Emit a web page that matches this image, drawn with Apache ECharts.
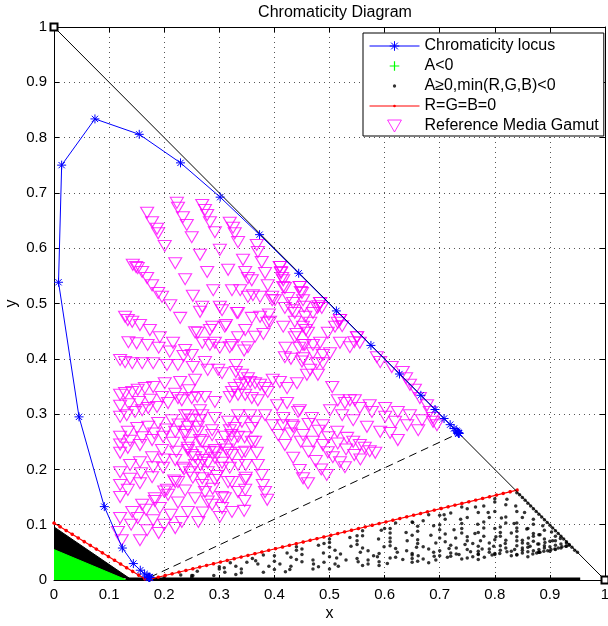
<!DOCTYPE html>
<html><head><meta charset="utf-8">
<script src="https://cdn.jsdelivr.net/npm/echarts@6/dist/echarts.min.js"></script>
<style>html,body{margin:0;padding:0;background:#fff}#c{width:608px;height:626px}</style>
</head><body><div id="c"></div>
<script>
// ---------------- data ----------------
const locus = [[0.1741,0.0050],[0.1738,0.0049],[0.1733,0.0048],[0.1726,0.0048],[0.1714,0.0051],[0.1689,0.0069],[0.1644,0.0109],[0.1566,0.0177],[0.1440,0.0297],[0.1241,0.0578],[0.0913,0.1327],[0.0454,0.2950],[0.0082,0.5384],[0.0139,0.7502],[0.0743,0.8338],[0.1547,0.8059],[0.2296,0.7543],[0.3016,0.6923],[0.3731,0.6245],[0.4441,0.5547],[0.5125,0.4866],[0.5752,0.4242],[0.6270,0.3725],[0.6658,0.3340],[0.6915,0.3083],[0.7079,0.2920],[0.7190,0.2809],[0.7260,0.2740],[0.7300,0.2700],[0.7320,0.2680],[0.7334,0.2666],[0.7344,0.2656],[0.7347,0.2653],[0.7347,0.2653],[0.7347,0.2653],[0.7347,0.2653]];
const purpleLine = [[0.1741,0.0050],[0.7347,0.2653]];
const unitLine = [[0,1],[1,0]];
const zeroRGB = [[0,0.103],[0.168,0],[0.842,0.163]];
const greenEdge = [[0,0.055],[0.132,0.0]];
const blackEdge = [[0,0.096],[0.137,0.003]];
const blackBase = [[0.13,0.002],[0.955,0.002]];
const blackDots = [
 [0.18,0.002],[0.25,0.005],[0.33,0.010],[0.42,0.015],[0.50,0.020],[0.59,0.026],[0.68,0.031],[0.77,0.037],[0.86,0.042],
 [0.20,0.004],[0.29,0.008],[0.38,0.014],[0.47,0.020],[0.56,0.026],[0.65,0.032],[0.74,0.038],[0.83,0.044],
 [0.23,0.009],[0.31,0.014],[0.40,0.019],[0.48,0.024],[0.57,0.029],[0.66,0.034],[0.75,0.040],[0.84,0.045],
 [0.252,0.008],[0.340,0.013],[0.428,0.019],[0.516,0.025],[0.605,0.030],[0.693,0.036],[0.781,0.041],[0.869,0.047],
 [0.26,0.016],[0.34,0.020],[0.43,0.025],[0.51,0.029],[0.59,0.033],[0.67,0.038],[0.76,0.042],[0.84,0.046],
 [0.309,0.022],[0.390,0.025],[0.471,0.029],[0.552,0.033],[0.633,0.037],[0.714,0.041],[0.795,0.045],[0.876,0.049],
 [0.30,0.024],[0.37,0.029],[0.45,0.033],[0.53,0.036],[0.61,0.040],[0.69,0.043],[0.77,0.047],
 [0.33,0.025],[0.41,0.029],[0.49,0.032],[0.57,0.036],[0.65,0.039],[0.72,0.043],[0.80,0.046],[0.88,0.050],
 [0.32,0.031],[0.40,0.034],[0.47,0.036],[0.55,0.039],[0.62,0.041],[0.70,0.044],[0.77,0.046],[0.85,0.049],
 [0.366,0.035],[0.440,0.037],[0.513,0.040],[0.587,0.042],[0.661,0.044],[0.735,0.046],[0.809,0.048],[0.882,0.050],
 [0.36,0.039],[0.43,0.041],[0.50,0.042],[0.58,0.044],[0.65,0.045],[0.73,0.047],[0.80,0.048],[0.88,0.050],
 [0.38,0.045],[0.45,0.046],[0.52,0.047],[0.59,0.048],[0.65,0.048],[0.72,0.049],[0.79,0.050],[0.86,0.051],
 [0.423,0.049],[0.489,0.049],[0.556,0.050],[0.623,0.050],[0.689,0.050],[0.756,0.051],[0.822,0.051],[0.889,0.052],
 [0.44,0.054],[0.51,0.054],[0.57,0.053],[0.64,0.053],[0.70,0.053],[0.77,0.052],[0.83,0.052],[0.90,0.052],
 [0.44,0.060],[0.50,0.059],[0.56,0.058],[0.62,0.057],[0.68,0.056],[0.75,0.055],[0.81,0.054],[0.87,0.053],
 [0.480,0.063],[0.539,0.061],[0.599,0.060],[0.658,0.059],[0.717,0.057],[0.777,0.056],[0.836,0.055],[0.896,0.053],
 [0.49,0.066],[0.55,0.064],[0.61,0.062],[0.67,0.060],[0.73,0.058],[0.79,0.056],[0.85,0.054],
 [0.50,0.074],[0.55,0.071],[0.61,0.069],[0.66,0.066],[0.72,0.063],[0.77,0.061],[0.82,0.058],[0.88,0.055],
 [0.537,0.077],[0.589,0.074],[0.641,0.071],[0.693,0.067],[0.746,0.064],[0.798,0.061],[0.850,0.058],[0.902,0.055],
 [0.56,0.080],[0.61,0.076],[0.66,0.073],[0.71,0.069],[0.76,0.066],[0.81,0.062],[0.86,0.059],[0.91,0.055],
 [0.56,0.089],[0.61,0.085],[0.65,0.081],[0.70,0.076],[0.75,0.071],[0.79,0.067],[0.84,0.062],[0.89,0.058],
 [0.594,0.090],[0.639,0.086],[0.684,0.081],[0.729,0.076],[0.774,0.071],[0.819,0.066],[0.864,0.061],[0.909,0.056],
 [0.61,0.093],[0.66,0.088],[0.71,0.083],[0.75,0.078],[0.80,0.073],[0.85,0.067],[0.89,0.062],
 [0.62,0.103],[0.66,0.097],[0.70,0.091],[0.74,0.085],[0.78,0.079],[0.82,0.072],[0.86,0.066],[0.90,0.060],
 [0.651,0.104],[0.689,0.098],[0.726,0.091],[0.764,0.084],[0.802,0.078],[0.840,0.071],[0.878,0.065],[0.915,0.058],
 [0.67,0.107],[0.70,0.100],[0.74,0.093],[0.77,0.086],[0.81,0.079],[0.85,0.072],[0.88,0.065],[0.92,0.058],
 [0.68,0.118],[0.71,0.110],[0.74,0.102],[0.78,0.094],[0.81,0.086],[0.84,0.078],[0.87,0.070],[0.91,0.063],
 [0.708,0.118],[0.738,0.110],[0.769,0.101],[0.800,0.093],[0.830,0.085],[0.861,0.076],[0.891,0.068],[0.922,0.060],
 [0.72,0.121],[0.75,0.113],[0.78,0.105],[0.81,0.096],[0.84,0.088],[0.87,0.079],[0.90,0.070],
 [0.74,0.132],[0.77,0.122],[0.79,0.113],[0.82,0.103],[0.84,0.094],[0.87,0.084],[0.89,0.074],[0.92,0.065],
 [0.765,0.132],[0.788,0.122],[0.812,0.112],[0.835,0.102],[0.858,0.092],[0.882,0.082],[0.905,0.071],[0.929,0.061],
 [0.78,0.134],[0.80,0.124],[0.82,0.114],[0.84,0.103],[0.86,0.093],[0.88,0.082],[0.91,0.071],[0.93,0.061],
 [0.80,0.147],[0.82,0.136],[0.84,0.124],[0.85,0.113],[0.87,0.101],[0.89,0.090],[0.91,0.079],[0.93,0.067],
 [0.822,0.146],[0.838,0.134],[0.854,0.122],[0.870,0.110],[0.887,0.098],[0.903,0.087],[0.919,0.075],[0.935,0.063],
 [0.25,0.008],[0.30,0.020],[0.35,0.032],[0.40,0.044],[0.45,0.056],[0.50,0.068],[0.55,0.080],[0.60,0.093],[0.65,0.105],[0.70,0.117],[0.75,0.129],[0.80,0.141],
 [0.84,0.158],[0.85,0.149],[0.86,0.139],[0.87,0.129],[0.88,0.119],[0.89,0.109],[0.90,0.099],[0.91,0.089],[0.92,0.079],[0.93,0.069],[0.94,0.059],[0.95,0.050],
 [0.845,0.154],[0.855,0.144],[0.865,0.134],[0.875,0.124],[0.885,0.114],[0.895,0.104],[0.905,0.094],[0.915,0.084],[0.925,0.074],[0.935,0.064],[0.945,0.054]
];
const gamutUpper = [
 [0.169,0.664],[0.178,0.647],[0.187,0.635],[0.189,0.627],[0.201,0.604],[0.220,0.573],[0.238,0.544],[0.252,0.514],[0.265,0.485],[0.283,0.452],[0.301,0.420],
 [0.223,0.682],[0.225,0.673],[0.234,0.656],[0.241,0.642],[0.250,0.620],[0.265,0.588],[0.278,0.557],[0.289,0.524],[0.301,0.494],[0.312,0.461],[0.323,0.425],[0.330,0.389],
 [0.269,0.678],[0.274,0.669],[0.278,0.660],[0.283,0.647],[0.292,0.629],[0.301,0.597],[0.316,0.561],[0.323,0.524],[0.334,0.483],[0.347,0.452],[0.345,0.415],
 [0.319,0.646],[0.325,0.637],[0.328,0.627],[0.334,0.611],[0.343,0.579],[0.352,0.546],[0.361,0.515],[0.374,0.476],[0.365,0.440],
 [0.368,0.606],[0.370,0.593],[0.377,0.575],[0.383,0.555],[0.388,0.533],[0.396,0.512],[0.390,0.480],[0.380,0.445],
 [0.410,0.566],[0.412,0.555],[0.416,0.542],[0.419,0.528],[0.425,0.510],[0.432,0.488],[0.437,0.467],[0.440,0.445],[0.420,0.420],
 [0.446,0.530],[0.450,0.519],[0.452,0.506],[0.454,0.494],[0.456,0.476],[0.457,0.452],[0.455,0.425],[0.430,0.400]
];
const gamutEdge = [[0.410,0.566],[0.412,0.557],[0.414,0.546],[0.446,0.530],[0.448,0.521],[0.483,0.501],[0.486,0.492],[0.519,0.470],[0.523,0.459],[0.550,0.439],[0.555,0.429],[0.586,0.403],[0.592,0.394],[0.613,0.385],[0.633,0.376],[0.639,0.365],[0.646,0.353],[0.655,0.344],[0.664,0.329],[0.677,0.316],[0.682,0.304],[0.688,0.293],[0.695,0.280]];
const gamutRight = [
 [0.483,0.501],[0.480,0.495],[0.478,0.492],[0.470,0.483],[0.465,0.465],[0.461,0.447],[0.445,0.420],
 [0.519,0.470],[0.515,0.465],[0.510,0.458],[0.497,0.447],[0.483,0.429],[0.470,0.410],[0.450,0.395],
 [0.550,0.439],[0.545,0.430],[0.537,0.421],[0.519,0.429],[0.501,0.410],[0.488,0.392],[0.465,0.380],
 [0.688,0.286],[0.668,0.289],[0.646,0.298],[0.624,0.304],[0.601,0.311],[0.573,0.316],[0.546,0.325],
 [0.661,0.271],[0.641,0.280],[0.619,0.286],[0.601,0.295],[0.577,0.304],[0.555,0.311],[0.528,0.320],
 [0.624,0.253],[0.610,0.266],[0.592,0.268],[0.568,0.277],[0.543,0.289],[0.523,0.298],[0.501,0.307],
 [0.583,0.230],[0.573,0.233],[0.564,0.239],[0.555,0.244],[0.543,0.250],[0.532,0.257],[0.514,0.268],[0.488,0.280],[0.468,0.293],[0.446,0.307],
 [0.556,0.218],[0.545,0.226],[0.530,0.236],[0.515,0.247],[0.498,0.258],[0.480,0.270],[0.462,0.282],
 [0.528,0.204],[0.519,0.213],[0.506,0.222],[0.497,0.231],[0.488,0.244],[0.470,0.250],[0.452,0.262],[0.434,0.277],[0.416,0.293],
 [0.495,0.190],[0.485,0.200],[0.475,0.215],[0.462,0.232],[0.448,0.250],[0.430,0.265],[0.415,0.280],
 [0.461,0.175],[0.452,0.184],[0.446,0.199],[0.434,0.221],[0.419,0.244],[0.407,0.262],[0.396,0.280],[0.383,0.298]
];
const gamutLeft = [
 [0.143,0.570],[0.149,0.566],[0.152,0.564],[0.160,0.557],[0.169,0.546],[0.178,0.533],[0.189,0.519],[0.196,0.512],[0.211,0.497],[0.229,0.474],[0.256,0.448],[0.283,0.425],
 [0.129,0.476],[0.134,0.470],[0.142,0.467],[0.156,0.461],[0.174,0.452],[0.192,0.439],[0.216,0.429],[0.238,0.416],[0.250,0.407],[0.274,0.394],[0.298,0.380],
 [0.135,0.430],[0.150,0.428],[0.170,0.425],[0.190,0.420],[0.210,0.413],[0.235,0.405],
 [0.120,0.398],[0.129,0.394],[0.142,0.392],[0.160,0.392],[0.180,0.392],[0.205,0.389],[0.225,0.389],[0.252,0.385],[0.279,0.380],[0.305,0.374],
 [0.120,0.335],[0.129,0.338],[0.142,0.340],[0.152,0.344],[0.165,0.347],[0.180,0.349],[0.201,0.356],[0.229,0.358],[0.256,0.362],
 [0.120,0.315],[0.136,0.318],[0.154,0.322],[0.174,0.326],[0.196,0.331],[0.220,0.337],[0.245,0.343],
 [0.120,0.295],[0.132,0.298],[0.147,0.304],[0.160,0.307],[0.171,0.311],[0.187,0.313],[0.207,0.320],[0.232,0.325],[0.260,0.331],
 [0.120,0.259],[0.134,0.268],[0.151,0.275],[0.171,0.277],[0.189,0.284],[0.214,0.289],[0.238,0.298],[0.265,0.307],
 [0.120,0.245],[0.138,0.252],[0.160,0.258],[0.182,0.265],[0.204,0.272],[0.226,0.281],[0.250,0.290],
 [0.120,0.230],[0.134,0.239],[0.156,0.244],[0.178,0.253],[0.198,0.259],[0.220,0.268],[0.243,0.277],[0.265,0.289],
 [0.120,0.195],[0.138,0.208],[0.156,0.213],[0.178,0.222],[0.196,0.235],[0.216,0.248],[0.238,0.262],[0.261,0.277],
 [0.120,0.172],[0.138,0.183],[0.158,0.193],[0.180,0.204],[0.200,0.218],[0.222,0.232],[0.245,0.248],
 [0.120,0.150],[0.134,0.163],[0.156,0.175],[0.178,0.186],[0.198,0.203],[0.220,0.217],[0.243,0.235],[0.265,0.253],
 [0.116,0.087],[0.123,0.072],[0.120,0.112],[0.142,0.123],[0.160,0.136],[0.183,0.148],[0.205,0.163],[0.225,0.177],[0.247,0.195],[0.270,0.217],[0.292,0.235]
];
const gamutLower = [
 [0.387,0.145],[0.383,0.159],[0.379,0.172],[0.377,0.190],[0.370,0.208],[0.368,0.230],[0.365,0.250],[0.359,0.275],[0.356,0.298],
 [0.345,0.125],[0.346,0.143],[0.347,0.163],[0.348,0.185],[0.348,0.208],[0.347,0.232],[0.346,0.258],
 [0.301,0.114],[0.305,0.130],[0.310,0.148],[0.316,0.177],[0.319,0.203],[0.323,0.226],[0.325,0.250],[0.328,0.275],[0.334,0.298],
 [0.262,0.105],[0.270,0.122],[0.279,0.142],[0.288,0.165],[0.296,0.188],[0.305,0.212],[0.313,0.236],[0.322,0.262],
 [0.220,0.094],[0.232,0.105],[0.243,0.123],[0.256,0.148],[0.269,0.172],[0.279,0.195],[0.292,0.221],[0.305,0.244],[0.319,0.271],
 [0.190,0.085],[0.200,0.100],[0.212,0.118],[0.225,0.140],[0.238,0.162],[0.252,0.185],[0.266,0.208],[0.282,0.232],
 [0.156,0.072],[0.169,0.090],[0.180,0.108],[0.192,0.130],[0.207,0.154],[0.220,0.177],[0.234,0.203],[0.250,0.226],[0.269,0.250],[0.287,0.271],
 [0.140,0.100],[0.152,0.112],[0.167,0.127],[0.183,0.143],[0.200,0.160],[0.218,0.180],[0.236,0.200],[0.256,0.222]
];
const gamutInner = [
 [0.416,0.530],[0.401,0.506],[0.434,0.501],[0.419,0.492],[0.437,0.483],[0.392,0.467],[0.416,0.458],[0.452,0.458],[0.437,0.439],[0.452,0.425],[0.470,0.425],[0.419,0.403],[0.452,0.401],[0.477,0.392],[0.488,0.407],
 [0.347,0.557],[0.359,0.542],[0.338,0.524],[0.352,0.512],[0.374,0.512],[0.396,0.506],[0.305,0.488],[0.269,0.494],[0.332,0.483],[0.359,0.474],[0.387,0.465],[0.287,0.458],[0.310,0.458],[0.334,0.439],[0.261,0.447],[0.269,0.429],[0.292,0.429],[0.319,0.421],[0.352,0.421],
 [0.225,0.329],[0.250,0.329],[0.274,0.331],[0.292,0.322],[0.243,0.298],[0.269,0.298],[0.292,0.293],[0.316,0.286],[0.341,0.286],[0.365,0.286],[0.238,0.268],[0.261,0.268],[0.287,0.262],[0.310,0.259],[0.334,0.259],[0.359,0.250],[0.243,0.239],[0.269,0.231],[0.292,0.231],[0.316,0.230],[0.341,0.230],[0.256,0.208],[0.279,0.212],[0.305,0.203],[0.334,0.208],[0.269,0.184],[0.292,0.181],[0.323,0.177],[0.347,0.181],[0.274,0.159],[0.305,0.150],[0.334,0.159],[0.287,0.136],[0.323,0.123],
 [0.397,0.362],[0.410,0.358],[0.423,0.347],[0.441,0.356],[0.459,0.371],[0.479,0.371],[0.505,0.349],[0.515,0.325],[0.537,0.325],[0.405,0.316],[0.423,0.320],[0.443,0.304],[0.432,0.280],
 [0.338,0.353],[0.347,0.356],[0.356,0.358],[0.365,0.356],[0.374,0.353],[0.383,0.347],[0.388,0.340],[0.328,0.347],[0.323,0.340],[0.319,0.331],[0.334,0.335],[0.347,0.335],[0.359,0.329],[0.370,0.325],[0.352,0.365],[0.341,0.371],[0.330,0.376]
];
const axisTicks = [0,0.1,0.2,0.3,0.4,0.5,0.6,0.7,0.8,0.9,1];
const titleText = 'Chromaticity Diagram';
const legendNames = ['Chromaticity locus','A<0','A≥0,min(R,G,B)<0','R=G=B=0','Reference Media Gamut'];

// ---------------- styling ----------------
const FONT = "'Liberation Sans', Arial, Helvetica, sans-serif";
const ASTER = 'path://M5,0L5,10M0,5L10,5M1.5,1.5L8.5,8.5M8.5,1.5L1.5,8.5';
const PLUS = 'path://M5,1L5,9M1,5L9,5M0,0L0,0.01M10,10L10,10.01';
const DOT = 'path://M0,0L0,0.01M10,10L10,10.01M5,3.6L6,4L6.4,5L6,6L5,6.4L4,6L3.6,5L4,4Z';
const TRI = 'path://M0,0L10,0L5,8.66Z';
const gamut = [].concat(gamutUpper, gamutEdge, gamutRight, gamutLeft, gamutLower, gamutInner);

const mkAxis = (pos, showLab, extra) => Object.assign({
  type: 'value', min: axisTicks[0], max: axisTicks[axisTicks.length-1], interval: 0.1, position: pos,
  axisLine: {show: true, onZero: false, lineStyle: {color: '#000', width: 1}},
  axisTick: {show: true, inside: true, length: 5, lineStyle: {color: '#000'}},
  axisLabel: {show: showLab, color: '#000', fontSize: 15, fontFamily: FONT, margin: 7},
  splitLine: {show: showLab, lineStyle: {color: '#555', width: 1, type: [1, 4]}}
}, extra || {});

const chart = echarts.init(document.getElementById('c'), null, {renderer: 'canvas'});
chart.setOption({
  animation: false,
  backgroundColor: '#fff',
  title: {text: titleText, left: 330, textAlign: 'center', top: 0,
    textStyle: {fontSize: 16, fontWeight: 'normal', color: '#000', fontFamily: FONT}},
  grid: {left: 54, right: 3, top: 27, bottom: 46, containLabel: false, outerBoundsMode: 'none'},
  xAxis: [
    mkAxis('bottom', true, {name: 'x', nameLocation: 'middle', nameGap: 26, nameMoveOverlap: false, nameTextStyle: {fontSize: 16, color: '#000', fontFamily: FONT}}),
    mkAxis('top', false)
  ],
  yAxis: [
    mkAxis('left', true, {name: 'y', nameLocation: 'middle', nameGap: 34, nameMoveOverlap: false, nameTextStyle: {fontSize: 16, color: '#000', fontFamily: FONT}}),
    mkAxis('right', false)
  ],
  legend: {
    orient: 'vertical', left: 363, top: 33, padding: [5, 5, 2, 6], itemGap: 4,
    itemWidth: 50, itemHeight: 12, borderColor: '#000', borderWidth: 1, backgroundColor: '#fff',
    selectedMode: false, textStyle: {fontSize: 16, color: '#000', fontFamily: FONT},
    data: [
      {name: legendNames[0], itemStyle: {color: '#0000ff', borderColor: '#0000ff', borderWidth: 1}, lineStyle: {color: '#0000ff', width: 1}},
      {name: legendNames[1], icon: PLUS, itemStyle: {color: '#00ff00', borderColor: '#00ff00', borderWidth: 1.2}},
      {name: legendNames[2], icon: DOT, itemStyle: {color: '#000', borderWidth: 0}},
      {name: legendNames[3], itemStyle: {color: '#ff0000', borderWidth: 0}, lineStyle: {color: '#ff0000', width: 1}},
      {name: legendNames[4], icon: TRI, itemStyle: {color: 'rgba(255,0,255,0)', borderColor: '#ff00ff', borderWidth: 1}}
    ]
  },
  series: [
    {type: 'line', name: 'blackRegion', data: blackEdge, showSymbol: false, silent: true, z: 2,
      lineStyle: {color: '#000', width: 1}, areaStyle: {color: '#000', opacity: 1}},
    {type: 'line', name: legendNames[1], data: greenEdge, symbol: PLUS, showSymbol: false, silent: true, z: 3,
      itemStyle: {color: '#00ff00', borderColor: '#00ff00', borderWidth: 1},
      lineStyle: {color: '#00ff00', width: 1}, areaStyle: {color: '#00ff00', opacity: 1}},
    {type: 'scatter', name: legendNames[2], data: blackDots, symbol: 'circle', symbolSize: 3.5, silent: true, z: 3,
      itemStyle: {color: '#000'}},
    {type: 'line', name: 'blackBase', data: blackBase, showSymbol: false, silent: true, z: 3,
      lineStyle: {color: '#000', width: 3}},
    {type: 'line', name: legendNames[3], data: zeroRGB, symbol: DOT, showSymbol: false, silent: true, z: 4,
      itemStyle: {color: '#ff0000'}, lineStyle: {color: '#ff0000', width: 1.2}},
    {type: 'line', name: 'zeroRGBdots', data: zeroRGB, showSymbol: false, silent: true, z: 4,
      lineStyle: {color: '#ff0000', width: 3.4, type: [0.1, 7], cap: 'round'}},
    {type: 'line', name: 'purpleLine', data: purpleLine, showSymbol: false, silent: true, z: 4,
      lineStyle: {color: '#000', width: 1, type: [8, 5]}},
    {type: 'scatter', name: legendNames[4], data: gamut, symbol: TRI, symbolSize: [13, 11], symbolKeepAspect: false, silent: true, z: 5,
      itemStyle: {color: 'rgba(255,0,255,0)', borderColor: '#ff00ff', borderWidth: 1.1}},
    {type: 'line', name: 'unitLine', data: unitLine, symbol: 'emptyRect', symbolSize: 7, clip: false, silent: true, z: 6,
      itemStyle: {color: '#000'}, lineStyle: {color: '#000', width: 1}},
    {type: 'line', name: legendNames[0], data: locus, symbol: ASTER, symbolSize: 9, silent: true, z: 6,
      itemStyle: {color: '#0000ff', borderColor: '#0000ff', borderWidth: 1},
      lineStyle: {color: '#0000ff', width: 1}}
  ]
});
</script></body></html>
